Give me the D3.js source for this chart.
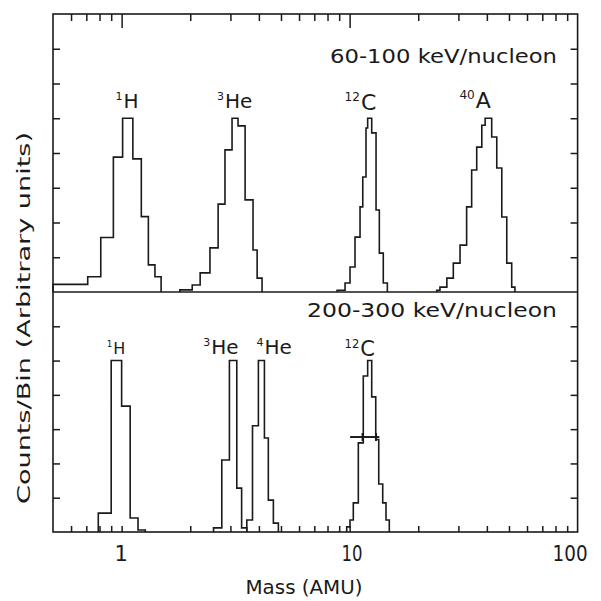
<!DOCTYPE html>
<html>
<head>
<meta charset="utf-8">
<script src="https://cdn.jsdelivr.net/npm/d3@7"></script>
<style>
  body { margin: 0; background: #fff; }
  text { font-family: "DejaVu Sans", sans-serif; fill: #1a1a1a; }
</style>
</head>
<body>
<div id="chart"></div>
<script>
    // x axis ticks (mass, AMU, log scale)
    var xTicksMinor = [0.6, 0.7, 0.8, 0.9, 2, 3, 4, 5, 6, 7, 8, 9, 20, 30, 40, 50, 60, 70, 80, 90];
    var xTicksMajor = [1, 10];
    var xTickLabels = [1, 10, 100];
    // y ticks (arbitrary units)
    var yTicksTop = [1, 2, 3, 4, 5, 6, 7];
    var yTicksBottom = [1, 2, 3, 4, 5, 6];

    // 60-100 keV/nucleon histograms: bin edges (AMU) and counts/bin
    var hTopEdges = [0.5, 0.71, 0.81, 0.92, 1.01, 1.12, 1.22, 1.31, 1.40, 1.49];
    var hTopCounts = [0.22, 0.44, 1.57, 3.88, 5.0, 3.83, 2.17, 0.78, 0.44];
    var he3TopEdges = [1.80, 2.04, 2.21, 2.44, 2.65, 2.84, 3.05, 3.24, 3.48, 3.77, 3.93, 4.13];
    var he3TopCounts = [0.06, 0.2, 0.55, 1.27, 2.53, 4.09, 5.0, 4.78, 2.65, 1.21, 0.4];
    var c12TopEdges = [8.81, 9.55, 10.04, 10.56, 11.11, 11.42, 11.80, 12.00, 12.50, 13.06, 13.50, 14.05, 14.64];
    var c12TopCounts = [0.05, 0.26, 0.72, 1.58, 2.45, 3.31, 4.72, 5.0, 4.58, 2.36, 1.12, 0.26];
    var a40TopEdges = [24.1, 24.9, 26.7, 28.5, 30.5, 32.6, 34.3, 36.1, 38.0, 39.3, 42.0, 44.2, 46.5, 48.9, 51.4, 53.1];
    var a40TopCounts = [0.05, 0.14, 0.4, 0.83, 1.35, 2.45, 3.51, 4.17, 4.8, 5.0, 4.46, 3.57, 2.16, 0.83, 0.14];

    // 200-300 keV/nucleon histograms
    var hBotEdges = [0.79, 0.90, 1.00, 1.09, 1.18, 1.27];
    var hBotCounts = [0.55, 5.0, 3.67, 0.41, 0.06];
    var he3BotEdges = [2.53, 2.75, 2.97, 3.20, 3.36, 3.54];
    var he3BotCounts = [0.12, 2.1, 5.0, 1.28, 0.12];
    var he4BotEdges = [3.54, 3.75, 3.98, 4.23, 4.40, 4.63, 4.87];
    var he4BotCounts = [0.35, 3.1, 5.0, 2.74, 0.93, 0.26];
    var c12BotEdges = [9.71, 10.04, 10.38, 10.92, 11.48, 12.00, 12.50, 13.02, 13.42, 13.97, 14.44, 14.93];
    var c12BotCounts = [0.15, 0.35, 0.85, 2.6, 4.55, 5.0, 3.94, 2.7, 1.4, 0.85, 0.35];
    // FWHM marker drawn across the 12C peak (bottom)
    var c12Fwhm = { level: 2.77, from: 10.05, to: 13.5, marks: [11.4, 13.05] };

    // peak labels: isotope number, element, label anchor (mass, units), size
    var topLabels = [
      { iso: "1", el: "H", m: 0.94, u: 5.3, s: 20 },
      { iso: "3", el: "He", m: 2.62, u: 5.3, s: 20 },
      { iso: "12", el: "C", m: 9.5, u: 5.25, s: 22 },
      { iso: "40", el: "A", m: 30.3, u: 5.3, s: 22 }
    ];
    var bottomLabels = [
      { iso: "1", el: "H", m: 0.86, u: 5.2, s: 16 },
      { iso: "3", el: "He", m: 2.28, u: 5.2, s: 20 },
      { iso: "4", el: "He", m: 3.9, u: 5.2, s: 20 },
      { iso: "12", el: "C", m: 9.5, u: 5.13, s: 21 }
    ];

    var W = 601, H = 601;
    var pLeft = 53, pRight = 577.6, pTop = 14, pMid = 292, pBottom = 532;

    var svg = d3.select("#chart")
      .append("svg")
      .attr("width", W)
      .attr("height", H);

    svg.append("rect").attr("width", W).attr("height", H).attr("fill", "#fff");

    var x = d3.scaleLog().domain([0.5, 100]).range([pLeft, pRight]);
    var yTop = d3.scaleLinear().domain([0, 8]).range([pMid, pTop]);
    var yBot = d3.scaleLinear().domain([0, 7]).range([pBottom, pMid]);

    var ink = "#1a1a1a";

    // frame and panel divider
    svg.append("rect")
      .attr("x", pLeft).attr("y", pTop)
      .attr("width", pRight - pLeft).attr("height", pBottom - pTop)
      .attr("fill", "none").attr("stroke", ink).attr("stroke-width", 1.6);
    svg.append("line")
      .attr("x1", pLeft).attr("x2", pRight).attr("y1", pMid).attr("y2", pMid)
      .attr("stroke", ink).attr("stroke-width", 1.4);

    function styleAxis(g) {
      g.select(".domain").remove();
      g.selectAll("line").attr("stroke", ink).attr("stroke-width", 1.5);
      g.selectAll("text").remove();
    }

    // top edge ticks point down, bottom edge ticks point up
    svg.append("g").attr("transform", "translate(0," + pTop + ")")
      .call(d3.axisBottom(x).tickValues(xTicksMinor).tickSize(7)).call(styleAxis);
    svg.append("g").attr("transform", "translate(0," + pTop + ")")
      .call(d3.axisBottom(x).tickValues(xTicksMajor).tickSize(14)).call(styleAxis);
    svg.append("g").attr("transform", "translate(0," + pBottom + ")")
      .call(d3.axisTop(x).tickValues(xTicksMinor.concat(xTicksMajor)).tickSize(6)).call(styleAxis);

    // left / right ticks point inward
    svg.append("g").attr("transform", "translate(" + pLeft + ",0)")
      .call(d3.axisRight(yTop).tickValues(yTicksTop).tickSize(7)).call(styleAxis);
    svg.append("g").attr("transform", "translate(" + pRight + ",0)")
      .call(d3.axisLeft(yTop).tickValues(yTicksTop).tickSize(7)).call(styleAxis);
    svg.append("g").attr("transform", "translate(" + pLeft + ",0)")
      .call(d3.axisRight(yBot).tickValues(yTicksBottom).tickSize(7)).call(styleAxis);
    svg.append("g").attr("transform", "translate(" + pRight + ",0)")
      .call(d3.axisLeft(yBot).tickValues(yTicksBottom).tickSize(7)).call(styleAxis);

    // x tick labels
    var xl = svg.append("g").attr("transform", "translate(0," + pBottom + ")")
      .call(d3.axisBottom(x).tickValues(xTickLabels).tickSize(0).tickPadding(14)
        .tickFormat(function (d) { return d; }));
    xl.select(".domain").remove();
    xl.selectAll("text")
      .attr("font-size", 21)
      .attr("font-family", "DejaVu Sans")
      .attr("fill", ink)
      .attr("dx", function (d) { return d === 100 ? -8 : (d === 10 ? 2 : -1); })
      .attr("textLength", function (d) { return d === 1 ? null : (d === 10 ? 21 : 35); })
      .attr("lengthAdjust", "spacingAndGlyphs");

    // histogram step line
    function stepPath(edges, counts, y) {
      var pts = [[x(edges[0]), y(0)]];
      counts.forEach(function (c, i) {
        pts.push([x(edges[i]), y(c)]);
        pts.push([x(edges[i + 1]), y(c)]);
      });
      pts.push([x(edges[edges.length - 1]), y(0)]);
      return d3.line()(pts);
    }

    var hists = [
      [hTopEdges, hTopCounts, yTop],
      [he3TopEdges, he3TopCounts, yTop],
      [c12TopEdges, c12TopCounts, yTop],
      [a40TopEdges, a40TopCounts, yTop],
      [hBotEdges, hBotCounts, yBot],
      [he3BotEdges, he3BotCounts, yBot],
      [he4BotEdges, he4BotCounts, yBot],
      [c12BotEdges, c12BotCounts, yBot]
    ];

    svg.append("g").selectAll("path")
      .data(hists)
      .enter()
      .append("path")
      .attr("d", function (d) { return stepPath(d[0], d[1], d[2]); })
      .attr("fill", "none")
      .attr("stroke", ink)
      .attr("stroke-width", 1.6);

    // FWHM marker
    var fw = svg.append("g").attr("stroke", ink).attr("stroke-width", 2);
    fw.append("line")
      .attr("x1", x(c12Fwhm.from)).attr("x2", x(c12Fwhm.to))
      .attr("y1", yBot(c12Fwhm.level)).attr("y2", yBot(c12Fwhm.level));
    fw.selectAll(".mk").data(c12Fwhm.marks).enter().append("line")
      .attr("x1", function (d) { return x(d); }).attr("x2", function (d) { return x(d); })
      .attr("y1", yBot(c12Fwhm.level) - 4).attr("y2", yBot(c12Fwhm.level) + 4);

    // isotope labels
    function isoLabel(d, y) {
      var size = d.s;
      var t = svg.append("text")
        .attr("x", x(d.m))
        .attr("y", y(d.u))
        .attr("font-size", size);
      t.append("tspan").text(d.iso).attr("font-size", size * 0.55).attr("dy", -size * 0.4);
      t.append("tspan").text(d.el).attr("dy", size * 0.4).attr("dx", 1);
    }
    topLabels.forEach(function (d) { isoLabel(d, yTop); });
    bottomLabels.forEach(function (d) { isoLabel(d, yBot); });

    // energy range captions
    svg.append("text")
      .attr("x", 330).attr("y", 63)
      .attr("font-size", 20)
      .attr("textLength", 227).attr("lengthAdjust", "spacingAndGlyphs")
      .text("60-100 keV/nucleon");
    svg.append("text")
      .attr("x", 307).attr("y", 317)
      .attr("font-size", 19)
      .attr("textLength", 250).attr("lengthAdjust", "spacingAndGlyphs")
      .text("200-300 keV/nucleon");

    // axis titles
    svg.append("text")
      .attr("x", 304).attr("y", 594)
      .attr("text-anchor", "middle")
      .attr("font-size", 19)
      .attr("textLength", 117).attr("lengthAdjust", "spacingAndGlyphs")
      .text("Mass (AMU)");
    svg.append("text")
      .attr("transform", "translate(30,318)rotate(-90)")
      .attr("text-anchor", "middle")
      .attr("font-size", 18)
      .attr("textLength", 372).attr("lengthAdjust", "spacingAndGlyphs")
      .text("Counts/Bin (Arbitrary units)");
</script>
</body>
</html>
